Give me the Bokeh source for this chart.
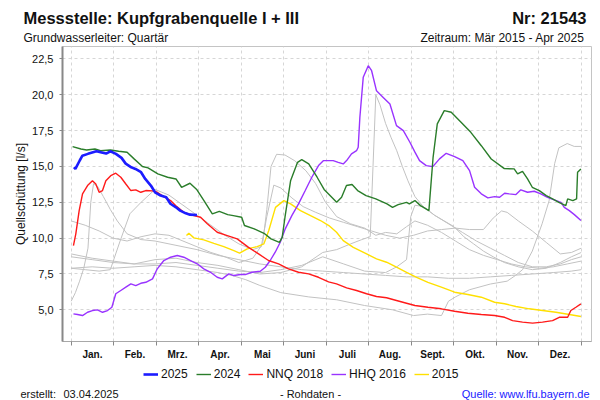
from bokeh.plotting import figure
from bokeh.layouts import column
from bokeh.models import (Range1d, LinearAxis, FixedTicker, Grid, Label, Legend,
                          LegendItem, CustomJSTickFormatter)
from bokeh.embed import file_html
from bokeh.resources import INLINE

# ---------------- data ----------------
months = ["Jan.", "Feb.", "Mrz.", "Apr.", "Mai", "Juni", "Juli", "Aug.",
          "Sept.", "Okt.", "Nov.", "Dez."]
y_ticks = [5.0, 7.5, 10.0, 12.5, 15.0, 17.5, 20.0, 22.5]
year_days = 365

# 2025 (blue)
d_2025 = [2, 3, 6, 8, 12, 18, 21, 25, 28, 32, 36, 39, 43, 46, 50, 53, 57, 60, 64, 68,
          71, 75, 78, 82, 85, 90]
q_2025 = [14.95, 14.83, 15.4, 15.75, 15.88, 16.06, 16.0, 15.9, 16.06, 15.88, 15.6, 15.2,
          14.94, 14.83, 14.6, 14.13, 13.67, 13.2, 12.97, 12.85, 12.4, 12.15, 11.92, 11.73,
          11.64, 11.62]

# 2024 (green)
d_2024 = [1, 7, 11, 17, 21, 28, 34, 40, 45, 51, 55, 62, 69, 75, 79, 85, 90, 95, 101, 106,
          112, 116, 122, 124, 131, 138, 143, 149, 151, 153, 157, 162, 165, 170, 176, 181,
          184, 190, 193.5, 197, 201, 205, 211, 218, 226, 230, 234, 240, 242, 246, 250, 256,
          259, 262, 267, 272, 279, 286, 293.5, 300.6, 310, 317, 319.5, 323, 326.6, 330, 335,
          340, 344.5, 349, 354, 355.3, 359, 361.7, 362.4, 364.8]
q_2024 = [16.38, 16.22, 16.15, 16.22, 16.1, 16.15, 16.06, 15.99, 15.53, 15.0, 14.9, 14.48,
          14.25, 14.13, 13.55, 13.83, 13.37, 12.62, 11.69, 11.87, 11.64, 11.57, 11.46, 10.88,
          10.65, 10.34, 9.95, 9.71, 10.06, 11.46, 14.0, 15.29, 15.48, 15.18, 14.25, 13.4,
          13.1, 12.5, 12.85, 13.67, 13.74, 13.32, 12.97, 12.74, 12.39, 12.15, 12.34, 12.5,
          12.39, 12.62, 12.27, 11.92, 15.64, 17.97, 18.9, 18.78, 18.08, 17.38, 16.45, 15.52,
          14.85, 14.83, 14.48, 14.66, 14.13, 13.55, 13.32, 12.97, 12.74, 12.5, 12.27, 12.74,
          12.62, 12.74, 14.6, 14.83]

# NNQ 2018 (red)
d_2018 = [1.6, 3.3, 5.7, 8.1, 11.7, 15.2, 17.6, 20, 22.4, 24.8, 28.3, 31.9, 35.5, 39.1,
          42.7, 46.2, 49.8, 53.4, 58.2, 61.6, 65.1, 71.1, 74.7, 80.6, 87.8, 92.6, 97.4,
          104.5, 111.7, 118.8, 126.9, 134.1, 141.2, 148.4, 155.5, 162.7, 169.9, 177, 184.2,
          189.9, 197.1, 204.2, 211.4, 218.5, 225.7, 232.8, 240, 246, 255.3, 264.9, 274.4,
          283.9, 293.5, 303, 310.2, 315.9, 323, 330.2, 337.3, 344.5, 349.3, 355.3, 357.6,
          361.2, 364.8]
q_2018 = [9.48, 10.3, 11.92, 13.09, 13.67, 14.0, 13.78, 13.2, 13.32, 14.0, 14.36, 14.53,
          14.25, 13.78, 13.32, 13.37, 13.2, 13.32, 13.3, 13.2, 12.97, 12.62, 12.27, 11.8,
          11.57, 11.46, 11.0, 10.41, 10.18, 9.95, 9.36, 8.9, 8.44, 8.21, 7.86, 7.62, 7.51,
          7.27, 6.95, 6.81, 6.53, 6.35, 6.12, 5.93, 5.84, 5.65, 5.46, 5.3, 5.18, 5.07, 4.9,
          4.76, 4.67, 4.6, 4.48, 4.25, 4.14, 4.07, 4.14, 4.25, 4.48, 4.48, 4.95, 5.18, 5.42]

# HHQ 2016 (purple)
d_2016 = [1.6, 4.5, 8.1, 11.7, 15.2, 18.8, 22.4, 26, 29.1, 31.9, 35.5, 39.1, 42.7, 46.2,
          49.8, 53.4, 58.2, 61.6, 66.3, 71.1, 75.9, 80.6, 85.4, 90.2, 94.9, 99.7, 104.5,
          108.1, 112.8, 116.4, 121.2, 124.6, 129.3, 135.3, 138.9, 142.4, 146, 149.6, 153.2,
          157.9, 162.7, 167.5, 172.2, 177, 180.6, 184.2, 187.5, 191.1, 194.7, 197.1, 200.6,
          204.2, 205.4, 206.6, 209, 212.6, 215, 218.5, 223.3, 228.1, 232.8, 237.7, 242.4,
          246, 249.3, 254.1, 258.8, 263.6, 268.4, 274.4, 280.3, 285.1, 288.7, 293.5, 298.2,
          303, 306.6, 310.2, 313.5, 318.3, 321.8, 326.6, 331.4, 336.1, 340.9, 345.7, 350.5,
          352.9, 356.5, 360.1, 364.8]
q_2016 = [4.72, 4.67, 4.6, 4.83, 4.95, 5.0, 4.83, 4.95, 5.18, 6.12, 6.35, 6.58, 6.81, 6.69,
          6.85, 6.92, 7.16, 7.86, 8.44, 8.67, 8.79, 8.67, 8.44, 8.21, 7.86, 7.62, 7.27, 7.16,
          7.51, 7.39, 7.46, 7.46, 7.62, 7.69, 7.97, 8.44, 9.02, 9.71, 10.65, 11.57, 12.39,
          13.32, 14.25, 15.06, 15.41, 15.41, 15.41, 15.29, 15.18, 15.41, 15.88, 16.1, 16.34,
          18.43, 21.22, 22.03, 21.68, 20.28, 19.82, 19.36, 17.85, 17.5, 16.69, 16.0, 15.41,
          15.06, 14.99, 15.53, 15.92, 15.69, 15.41, 14.71, 13.55, 13.09, 12.81, 12.9, 12.85,
          13.13, 13.09, 13.04, 13.37, 13.2, 13.27, 13.09, 12.85, 12.67, 12.5, 12.15, 11.92,
          11.64, 11.23]

# 2015 (yellow)
d_2015 = [82.5, 84.2, 87.8, 94.9, 102.1, 109.2, 116.4, 120.5, 126, 133.1, 137.9, 141.4,
          146.2, 152.2, 157, 164.1, 171.3, 178.4, 184.4, 189.9, 194.7, 201.9, 211.4, 218.5,
          225.7, 232.8, 240, 247.2, 255.3, 264.9, 274.4, 283.9, 293.5, 303, 310.2, 318.3,
          327.8, 337.3, 346.9, 356.5, 364.8]
q_2015 = [10.18, 10.34, 10.02, 9.88, 9.64, 9.41, 9.13, 8.95, 9.25, 9.41, 9.6, 10.53, 12.15,
          12.62, 12.39, 11.92, 11.57, 11.23, 10.88, 10.41, 9.83, 9.36, 8.9, 8.55, 8.32, 7.97,
          7.62, 7.27, 6.92, 6.58, 6.23, 6.07, 5.88, 5.53, 5.42, 5.23, 5.07, 4.95, 4.83, 4.67,
          4.53]

# other years (grey)
grey_days = [
    [0, 3, 6, 9, 12, 14, 16, 19, 23, 28, 33, 40, 50, 60, 75, 90, 105, 120, 135, 150, 165,
     180, 195, 210, 225, 240, 255, 270, 285, 300, 315, 330, 345, 358, 365],
    [0, 10, 20, 30, 40, 50, 60, 70, 80, 90, 100, 110, 120, 130, 137, 140, 143, 147, 153,
     160, 168, 175, 182, 190, 200, 210, 218, 225, 233, 240, 246, 255, 265, 275, 285, 295,
     305, 315, 325, 335, 345, 355, 365],
    [0, 15, 30, 45, 60, 75, 90, 105, 120, 135, 150, 165, 180, 190, 200, 208, 214, 216, 218,
     221, 225, 229, 233, 237, 241, 246, 252, 260, 270, 280, 290, 300, 310, 320, 330, 340,
     350, 358, 365],
    [0, 15, 30, 45, 60, 75, 90, 105, 120, 135, 150, 165, 180, 195, 210, 225, 233, 240, 243,
     246, 252, 260, 267, 274, 281, 288, 295, 302, 310, 320, 330, 340, 350, 358, 365],
    [0, 10, 20, 28, 35, 42, 50, 60, 70, 80, 90, 100, 110, 120, 130, 136, 140, 145, 150, 158,
     166, 175, 185, 195, 205, 215, 225, 235, 245, 255, 265, 275, 285, 295, 302, 308, 312,
     320, 330, 340, 350, 358, 365],
    [0, 15, 30, 45, 60, 75, 90, 105, 115, 125, 135, 150, 170, 190, 210, 230, 245, 255, 265,
     270, 275, 285, 300, 312, 318, 323, 330, 337, 342, 346, 349, 355, 360, 365],
]
grey_vals = [
    [5.6, 6.2, 7.0, 7.9, 9.3, 12.5, 13.8, 13.6, 12.9, 12.0, 11.2, 10.3, 9.9, 9.8, 9.5, 9.2,
     8.8, 8.5, 8.2, 8.0, 7.8, 7.7, 7.6, 7.5, 7.4, 7.3, 7.3, 7.2, 7.2, 7.3, 7.4, 7.5, 7.6,
     7.7, 7.8],
    [11.2, 10.9, 10.5, 10.0, 9.8, 10.1, 10.3, 10.2, 9.8, 9.4, 9.0, 8.7, 8.3, 8.6, 9.6, 12.0,
     15.0, 15.85, 15.8, 15.4, 14.7, 13.8, 12.5, 11.5, 11.0, 10.7, 10.2, 10.4, 10.3, 10.8,
     11.2, 10.9, 10.4, 9.8, 9.2, 8.8, 8.5, 8.2, 8.0, 7.9, 8.0, 8.2, 8.4],
    [8.7, 8.5, 8.3, 8.2, 8.5, 8.6, 8.3, 8.1, 7.8, 7.5, 7.6, 8.0, 9.0, 9.2, 9.6, 9.9, 10.1,
     15.0, 20.0, 19.3, 18.0, 17.0, 16.1, 15.0, 14.0, 12.9, 12.2, 11.6, 11.0, 10.4, 9.8, 9.3,
     8.8, 8.3, 8.0, 8.0, 8.2, 8.5, 8.7],
    [8.9, 8.6, 8.4, 8.2, 8.2, 8.3, 8.1, 7.9, 7.7, 7.6, 7.8, 8.1, 8.7, 8.2, 7.7, 7.6, 8.0,
     8.5, 11.5, 12.3, 12.2, 11.6, 11.2, 10.8, 10.1, 9.6, 9.1, 8.7, 8.3, 8.0, 7.8, 7.9, 8.3,
     8.7, 9.0],
    [7.9, 7.8, 7.7, 7.8, 9.8, 11.7, 12.5, 13.4, 13.0, 12.3, 11.6, 10.9, 10.2, 9.6, 9.2, 9.4,
     11.5, 13.7, 13.5, 12.8, 12.2, 11.8, 11.4, 11.1, 10.8, 10.5, 10.2, 10.0, 10.2, 10.5,
     10.6, 10.7, 10.6, 10.6, 11.4, 11.9, 11.8, 11.2, 10.5, 9.7, 8.9, 9.0, 9.3],
    [7.9, 8.0, 7.9, 8.0, 8.1, 8.0, 7.8, 7.6, 7.4, 7.1, 6.7, 6.2, 5.9, 5.7, 5.3, 5.0, 4.6,
     4.7, 4.6, 5.6, 5.9, 6.4, 6.8, 7.0, 7.4, 7.8, 9.1, 11.0, 12.6, 15.2, 16.3, 16.6, 16.4,
     16.4],
]

# series styles (colour, width)
series = [
    ("2025", d_2025, q_2025, "#1c1cff", 2.6),
    ("2024", d_2024, q_2024, "#2a7d2a", 1.4),
    ("NNQ 2018", d_2018, q_2018, "#ff1a1a", 1.4),
    ("HHQ 2016", d_2016, q_2016, "#9933ff", 1.4),
    ("2015", d_2015, q_2015, "#ffe000", 1.4),
]

FONT = "Liberation Sans"
W = 600


def blank(h):
    f = figure(width=W, height=h, output_backend="svg", toolbar_location=None,
               title=None, x_range=Range1d(0, W), y_range=Range1d(h, 0),
               x_axis_location=None, y_axis_location=None, frame_align=False,
               min_border_left=0, min_border_right=0, min_border_top=0,
               min_border_bottom=0)
    f.xgrid.visible = False
    f.ygrid.visible = False
    f.outline_line_color = None
    f.background_fill_color = "white"
    f.border_fill_color = "white"
    return f


def add_text(f, x, y, text, size, bold=False, align="left", color="#111111"):
    f.add_layout(Label(x=x, y=y, text=text, text_font=FONT, text_font_size=size,
                       text_font_style="bold" if bold else "normal",
                       text_align=align, text_baseline="middle",
                       text_color=color))


# ---------------- header ----------------
head = blank(46)
add_text(head, 23, 17.5, "Messstelle: Kupfgrabenquelle I + III", "16.5px", bold=True)
add_text(head, 586, 17.5, "Nr: 21543", "16.5px", bold=True, align="right")
add_text(head, 23, 37, "Grundwasserleiter: Quartär", "12px")
add_text(head, 584, 37, "Zeitraum: Mär 2015 - Apr 2025", "12px", align="right")

# ---------------- main plot ----------------
p = figure(width=W, height=320, output_backend="svg", toolbar_location=None,
           title=None, x_range=Range1d(-6.23, 372.37), y_range=Range1d(2.79, 23.37),
           x_axis_location=None, y_axis_location=None, frame_align=False,
           min_border_left=62, min_border_right=9, min_border_top=0,
           min_border_bottom=25)
p.xgrid.visible = False
p.ygrid.visible = False
p.background_fill_color = "white"
p.border_fill_color = "white"
p.outline_line_color = "#c4c4c4"
p.outline_line_width = 1

bounds = [k * year_days / 12 for k in range(13)]
mids = [(k + 0.5) * year_days / 12 for k in range(12)]

p.add_layout(Grid(dimension=0, ticker=FixedTicker(ticks=bounds),
                  grid_line_color="#d6d6d6", grid_line_dash="3 3"))
p.add_layout(Grid(dimension=1, ticker=FixedTicker(ticks=y_ticks),
                  grid_line_color="#d6d6d6", grid_line_dash="3 3"))

yax = LinearAxis(ticker=FixedTicker(ticks=y_ticks),
                 formatter=CustomJSTickFormatter(code="return tick.toFixed(1).replace('.', ',')"),
                 axis_label="Quellschüttung [l/s]",
                 axis_label_text_font=FONT, axis_label_text_font_size="12px",
                 axis_label_text_font_style="normal", axis_label_text_color="#111111",
                 axis_label_standoff=1,
                 major_label_text_font=FONT, major_label_text_font_size="11px",
                 major_label_text_color="#111111", major_label_standoff=6,
                 major_tick_in=0, major_tick_out=3, major_tick_line_color="#888888",
                 minor_tick_line_color=None,
                 axis_line_color="#888888", axis_line_width=2)
p.add_layout(yax, "left")

xax = LinearAxis(ticker=FixedTicker(ticks=mids, minor_ticks=bounds),
                 formatter=CustomJSTickFormatter(args=dict(labels=months),
                                                 code="return labels[index]"),
                 major_label_text_font=FONT, major_label_text_font_size="10px",
                 major_label_text_font_style="bold", major_label_text_color="#111111",
                 major_label_standoff=3,
                 major_tick_line_color=None, major_tick_in=0, major_tick_out=4,
                 minor_tick_line_color="#888888", minor_tick_in=0, minor_tick_out=4,
                 axis_line_color="#a8a8a8", axis_line_width=1)
p.add_layout(xax, "below")

for dd, vv in zip(grey_days, grey_vals):
    p.line(dd, vv, line_color="#c2c2c2", line_width=1)

for name, dd, vv, col, lw in reversed(series):
    p.line(dd, vv, line_color=col, line_width=lw)

# ---------------- footer (legend + notes) ----------------
foot = blank(34)
nan = float("nan")
items = []
for name, dd, vv, col, lw in series:
    r = foot.line([nan], [nan], line_color=col, line_width=lw)
    items.append(LegendItem(label=name, renderers=[r]))
legend = Legend(items=items, orientation="horizontal", location=(143, 19),
                border_line_color=None, background_fill_alpha=0,
                padding=0, margin=0, spacing=8, glyph_width=15, glyph_height=14,
                label_standoff=3, label_height=14, label_width=10,
                label_text_font=FONT, label_text_font_size="12px",
                label_text_color="#111111")
foot.add_layout(legend)

add_text(foot, 20, 27.5, "erstellt:", "11px")
add_text(foot, 63, 27.5, "03.04.2025", "11px")
add_text(foot, 310, 27.5, "- Rohdaten -", "11px", align="center")
add_text(foot, 589, 27.5, "Quelle: www.lfu.bayern.de", "11px", align="right",
         color="#1a1aff")

layout = column(head, p, foot, spacing=0)
open("out.html", "w").write(file_html(layout, INLINE))
